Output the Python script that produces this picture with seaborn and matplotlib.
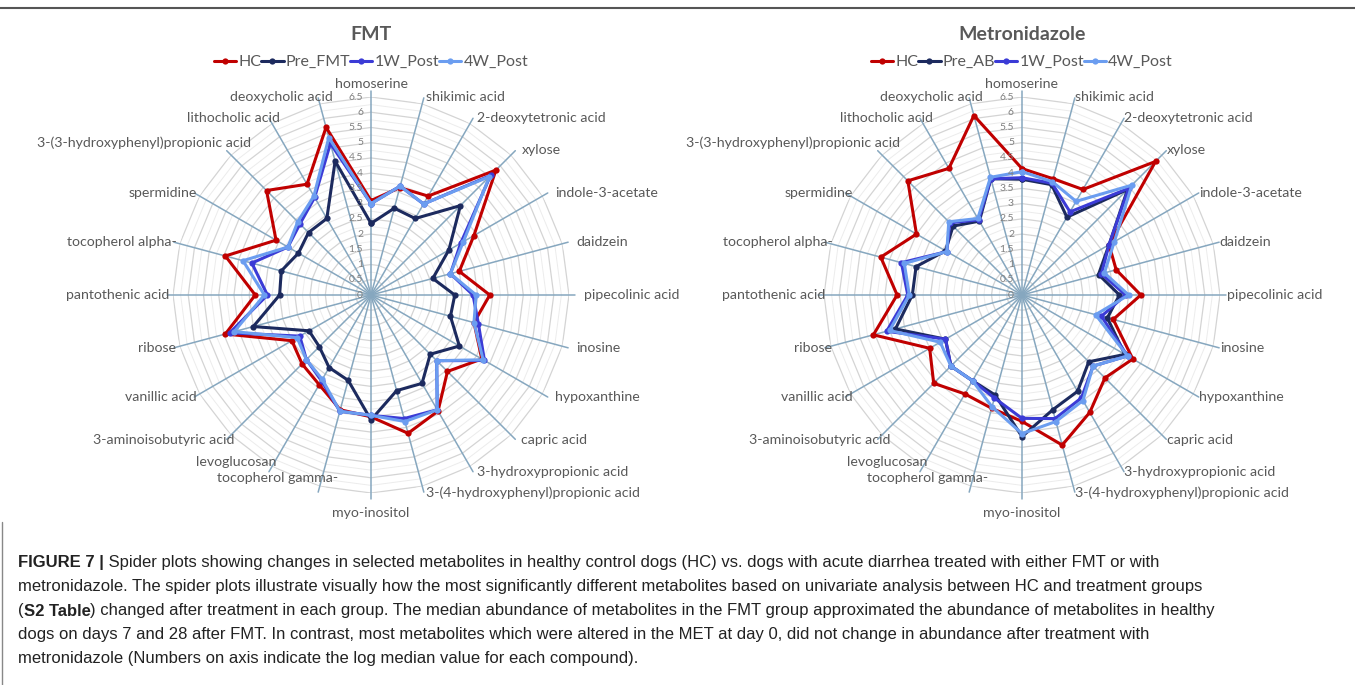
import numpy as np
import pandas as pd
import seaborn as sns
import matplotlib
matplotlib.use("Agg")
import matplotlib.pyplot as plt
from matplotlib.lines import Line2D
from matplotlib import font_manager

# ---------------- data ----------------
metabolites = [
    "homoserine", "shikimic acid", "2-deoxytetronic acid", "xylose",
    "indole-3-acetate", "daidzein", "pipecolinic acid", "inosine",
    "hypoxanthine", "capric acid", "3-hydroxypropionic acid",
    "3-(4-hydroxyphenyl)propionic acid", "myo-inositol", "tocopherol gamma-",
    "levoglucosan", "3-aminoisobutyric acid", "vanillic acid", "ribose",
    "pantothenic acid", "tocopherol alpha-", "spermidine",
    "3-(3-hydroxyphenyl)propionic acid", "lithocholic acid", "deoxycholic acid",
]

fmt_series = ["HC", "Pre_FMT", "1W_Post", "4W_Post"]
fmt_hc = [3.1, 3.65, 3.75, 5.8, 3.9, 3.0, 3.9, 3.5, 4.2, 3.55, 4.4, 4.7,
          4.0, 3.9, 3.4, 3.2, 3.0, 4.95, 3.8, 4.95, 3.6, 4.85, 4.2, 5.7]
fmt_pre = [2.35, 2.95, 2.9, 4.15, 2.95, 2.1, 2.75, 2.7, 3.35, 2.75, 3.35, 3.25,
           4.1, 2.9, 2.75, 2.4, 2.35, 4.0, 3.0, 3.05, 2.75, 2.9, 2.9, 4.55]
fmt_1w = [3.0, 3.7, 3.45, 5.55, 3.4, 2.7, 3.35, 3.65, 4.3, 3.05, 4.35, 4.2,
          3.95, 3.95, 3.25, 3.0, 2.7, 4.8, 3.4, 4.05, 3.15, 3.3, 3.7, 5.15]
fmt_4w = [3.0, 3.7, 3.45, 5.5, 3.5, 2.7, 3.45, 3.5, 4.25, 3.05, 4.35, 4.3,
          3.95, 3.95, 3.2, 3.0, 2.8, 4.65, 3.5, 4.35, 3.15, 3.4, 3.75, 5.35]

met_series = ["HC", "Pre_AB", "1W_Post", "4W_Post"]
met_hc = [4.15, 3.95, 4.0, 6.2, 3.3, 3.2, 3.9, 3.1, 4.2, 3.85, 4.45, 5.1,
          4.15, 3.85, 3.75, 4.1, 3.5, 5.05, 4.1, 4.8, 4.0, 5.3, 4.8, 6.1]
met_pre = [3.8, 3.75, 2.95, 4.9, 3.3, 2.6, 3.2, 2.9, 3.9, 3.1, 3.65, 3.9,
           4.65, 3.4, 3.25, 3.3, 2.9, 4.3, 3.6, 3.6, 2.9, 3.2, 2.8, 3.95]
met_1w = [3.85, 3.8, 3.15, 4.95, 3.3, 2.7, 3.4, 2.7, 4.0, 3.3, 3.9, 4.2,
          4.05, 3.5, 3.25, 3.3, 2.9, 4.6, 3.75, 4.1, 2.85, 3.35, 2.85, 3.95]
met_4w = [4.05, 3.85, 3.55, 5.1, 3.5, 2.8, 3.5, 2.5, 4.0, 3.3, 4.0, 4.3,
          4.55, 3.8, 3.25, 3.3, 3.1, 4.5, 3.7, 4.0, 2.85, 3.4, 2.9, 4.0]

axis_ticks = [0, 0.5, 1, 1.5, 2, 2.5, 3, 3.5, 4, 4.5, 5, 5.5, 6, 6.5]
axis_tick_labels = ["0", "0.5", "1", "1.5", "2", "2.5", "3", "3.5", "4",
                    "4.5", "5", "5.5", "6", "6.5"]

caption_lines = [
    [("FIGURE 7 |", "bold"), (" Spider plots showing changes in selected metabolites in healthy control dogs (HC) vs. dogs with acute diarrhea treated with either FMT or with", "normal")],
    [("metronidazole. The spider plots illustrate visually how the most significantly different metabolites based on univariate analysis between HC and treatment groups", "normal")],
    [("(", "normal"), ("S2 Table", "bold"), (") changed after treatment in each group. The median abundance of metabolites in the FMT group approximated the abundance of metabolites in healthy", "normal")],
    [("dogs on days 7 and 28 after FMT. In contrast, most metabolites which were altered in the MET at day 0, did not change in abundance after treatment with", "normal")],
    [("metronidazole (Numbers on axis indicate the log median value for each compound).", "normal")],
]

# ---------------- style ----------------
sns.set_theme(style="white")


def pick(cands):
    names = {f.name for f in font_manager.fontManager.ttflist}
    for c in cands:
        if c in names:
            return c
    return "DejaVu Sans"


chart_font = pick(["Lato", "Open Sans", "Noto Sans"])
cap_font = pick(["Liberation Sans Narrow", "Liberation Sans", "DejaVu Sans"])
plt.rcParams["font.family"] = [chart_font, "DejaVu Sans"]

colors = ["#c00000", "#1c2a5e", "#3b3bd6", "#6b9df0"]
W, H = 1355, 685
fig = plt.figure(figsize=(W / 100, H / 100), dpi=100)
fig.patch.set_facecolor("white")

n = len(metabolites)
theta = np.arange(n) * 2 * np.pi / n
RMAX = 6.5
GRAY = "#595959"

# label nudges in pixels (dx, dy) per chart: layout only
fmt_nudge = {22: (8, 0), 23: (12, 0), 21: (22, 8), 15: (5, 0), 14: (5, 10), 13: (17, 15)}
met_nudge = {22: (5, 0), 23: (6, 0), 21: (15, 8), 15: (5, 0), 14: (0, 10), 13: (11, 15)}


def add_radar(cx, cy, title, names, values, dx_right, dx_left, nudge):
    R = 198
    ax = fig.add_axes([(cx - R) / W, (H - cy - R) / H, 2 * R / W, 2 * R / H],
                      projection="polar")
    ax.set_theta_zero_location("N")
    ax.set_theta_direction(-1)
    ax.set_ylim(0, RMAX)
    ax.set_xticks([])
    ax.set_yticks([])
    ax.grid(False)
    ax.spines["polar"].set_visible(False)
    ax.set_facecolor("none")

    th_closed = np.append(theta, theta[0])
    for r in np.arange(0.25, RMAX + 0.01, 0.25):
        major = abs(r * 2 - round(r * 2)) < 1e-6
        ax.plot(th_closed, [r] * (n + 1), color="#d4d4d4" if major else "#ececec",
                lw=0.9 if major else 0.7, zorder=1)
    for t in theta:
        ax.plot([t, t], [0, 6.7], color="#86a7bf", lw=1.1, zorder=2, clip_on=False)

    rows = []
    for s, vals in zip(names, values):
        vv = list(vals) + [vals[0]]
        for k, (t, v) in enumerate(zip(th_closed, vv)):
            rows.append({"theta": t, "value": v, "series": s, "k": k})
    df = pd.DataFrame(rows)
    sns.lineplot(data=df, x="theta", y="value", hue="series", hue_order=names,
                 palette=colors, sort=False, estimator=None, marker="o",
                 markersize=4.5, markeredgewidth=0, linewidth=2.2, ax=ax,
                 legend=False, zorder=4)
    ax.set_xlabel("")
    ax.set_ylabel("")

    for v, lab in zip(axis_ticks, axis_tick_labels):
        ax.annotate(lab, xy=(0, v), xytext=(-8, 0), textcoords="offset pixels",
                    ha="right", va="center", fontsize=7.5, color="#808080",
                    zorder=5, annotation_clip=False)

    for i, (t, lab) in enumerate(zip(theta, metabolites)):
        s, c = np.sin(t), np.cos(t)
        if s > 0.1:
            ha, dx = "left", dx_right * abs(s)
        elif s < -0.1:
            ha, dx = "right", dx_left
        else:
            ha, dx = "center", 0
        if c > 0.99:
            va, rr = "bottom", 6.72
        elif c < -0.99:
            va, rr = "top", 6.95
        else:
            va, rr = "center", 6.72
        ndx, ndy = nudge.get(i, (0, 0))
        ax.annotate(lab, xy=(t, rr), xytext=(dx + ndx, ndy), textcoords="offset pixels",
                    ha=ha, va=va, fontsize=10.2, color=GRAY, annotation_clip=False)

    fig.text(cx / W, 1 - 34 / H, title, ha="center", va="center", fontsize=14,
             weight="bold", color=GRAY)
    handles = [Line2D([0], [0], color=col, lw=2.2, marker="o", markersize=4.5,
                      markeredgewidth=0) for col in colors]
    fig.legend(handles, names, loc="center", bbox_to_anchor=(cx / W, 1 - 62 / H),
               ncol=4, frameon=False, handlelength=1.4, handletextpad=0.12,
               columnspacing=0.0, fontsize=11.5, labelcolor=GRAY,
               borderaxespad=0, borderpad=0)
    return ax


add_radar(371, 295, "FMT", fmt_series, [fmt_hc, fmt_pre, fmt_1w, fmt_4w], 8, 3, fmt_nudge)
add_radar(1022, 295, "Metronidazole", met_series, [met_hc, met_pre, met_1w, met_4w],
          0, 8, met_nudge)

fig.add_artist(Line2D([0, 1], [1 - 8 / H, 1 - 8 / H], color="#555555", lw=1.5,
                      transform=fig.transFigure))
fig.add_artist(Line2D([1.5 / W, 1.5 / W], [0, 1 - 522 / H], color="#888888", lw=1.0,
                      transform=fig.transFigure))

# caption
renderer = fig.canvas.get_renderer()
line_y = [563, 587, 611, 634, 658]
for y, parts in zip(line_y, caption_lines):
    x = 18
    for txt, wt in parts:
        t = fig.text(x / W, 1 - y / H, txt, ha="left", va="center", fontsize=12.0,
                     weight=wt, color="#222222", family=[cap_font, "DejaVu Sans"])
        x += t.get_window_extent(renderer).width

fig.savefig("out.png", dpi=100, facecolor="white")
